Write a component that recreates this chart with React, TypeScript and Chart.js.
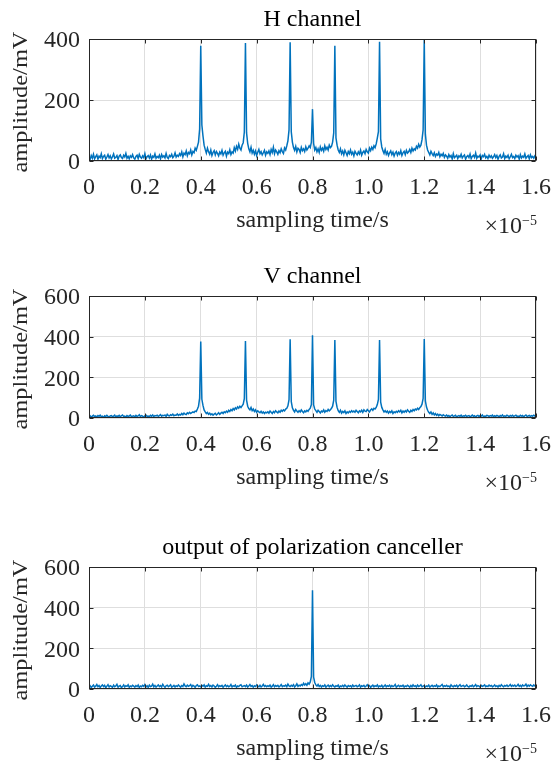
import React, { useEffect, useRef } from "react";
import { Chart, registerables } from "chart.js";

Chart.register(...registerables);

// sampling time axis is in units of 1e-5 s
const SAMPLE_STEP = 0.004;
const X_MIN = 0;
const X_MAX = 1.6;
const X_TICK_STEP = 0.2;
const Y_TICK_STEP = 200;

const TITLES = ["H channel", "V channel", "output of polarization canceller"];
const Y_MAXES = [400, 600, 600];
const X_LABEL = "sampling time/s";
const Y_LABEL = "amplitude/mV";

const H_CHANNEL = [
  12, 5, 18, 9, 22, 7, 14, 20, 6, 16, 11, 24, 8, 15, 19, 6, 13, 21, 10, 17,
  7, 14, 23, 9, 12, 18, 5, 16, 20, 11, 8, 19, 13, 25, 9, 15, 7, 17, 12, 21,
  10, 6, 15, 19, 8, 22, 13, 9, 17, 11, 24, 7, 14, 18, 10, 20, 6, 16, 12, 23,
  9, 15, 11, 19, 7, 21, 13, 17, 10, 25, 12, 8, 18, 14, 22, 11, 16, 27, 13, 19,
  15, 24, 18, 30, 14, 26, 21, 33, 17, 28, 24, 36, 20, 31, 27, 42, 35, 48, 62, 105,
  378, 118, 82, 52, 38, 26, 42, 30, 22, 36, 18, 28, 34, 20, 31, 25, 17, 29, 23, 35,
  19, 27, 32, 16, 29, 24, 37, 21, 30, 26, 44, 33, 48, 38, 55, 42, 36, 52, 60, 95,
  387, 92, 58, 40, 30, 45, 26, 35, 22, 33, 18, 29, 38, 24, 31, 20, 27, 35, 19, 30,
  25, 33, 21, 38, 28, 45, 24, 36, 30, 22, 34, 27, 40, 31, 25, 43, 36, 50, 66, 102,
  389, 96, 62, 44, 35, 48, 30, 42, 38, 28, 45, 34, 40, 31, 47, 36, 42, 50, 44, 62,
  170, 58, 36, 44, 30, 40, 28, 46, 35, 42, 32, 50, 38, 45, 36, 52, 44, 48, 62, 92,
  378, 76, 52, 36, 28, 40, 24, 33, 20, 35, 27, 18, 31, 24, 36, 22, 29, 17, 32, 25,
  20, 30, 23, 36, 19, 28, 33, 24, 38, 30, 26, 42, 34, 45, 38, 50, 44, 56, 75, 96,
  391, 72, 46, 34, 25, 38, 22, 30, 18, 27, 33, 21, 29, 16, 26, 31, 19, 28, 22, 34,
  18, 27, 32, 21, 35, 26, 30, 38, 28, 42, 33, 40, 36, 48, 42, 55, 46, 52, 70, 102,
  398, 88, 52, 36, 28, 20, 32, 24, 18, 27, 15, 23, 19, 28, 14, 22, 17, 25, 12, 20,
  16, 9, 21, 13, 18, 7, 24, 11, 15, 19, 8, 17, 13, 22, 10, 16, 20, 6, 14, 18,
  11, 23, 8, 15, 19, 12, 26, 9, 16, 13, 20, 7, 18, 14, 22, 10, 15, 8, 19, 12,
  17, 9, 14, 21, 11, 18, 6, 15, 20, 10, 13, 24, 8, 16, 12, 19, 7, 14, 22, 11,
  15, 8, 19, 13, 17, 6, 21, 10, 16, 12, 23, 9, 14, 18, 7, 20, 11, 15, 9, 17,
  13,
];

const V_CHANNEL = [
  6, 11, 4, 9, 13, 7, 10, 5, 12, 8, 14, 6, 9, 3, 11, 7, 13, 8, 5, 10,
  12, 6, 9, 14, 4, 10, 8, 13, 6, 11, 15, 7, 9, 5, 12, 8, 10, 14, 6, 9,
  11, 5, 13, 8, 10, 16, 7, 12, 9, 4, 11, 14, 8, 10, 6, 13, 9, 15, 7, 12,
  10, 14, 8, 12, 17, 9, 13, 11, 15, 8, 18, 12, 10, 16, 13, 19, 11, 15, 14, 20,
  13, 18, 15, 22, 16, 24, 19, 17, 25, 21, 28, 22, 26, 30, 27, 34, 32, 44, 58, 98,
  376, 92, 62, 40, 30, 22, 27, 18, 24, 16, 21, 14, 19, 23, 15, 20, 26, 18, 24, 28,
  22, 30, 26, 34, 28, 38, 32, 42, 36, 46, 40, 50, 44, 55, 48, 58, 52, 60, 68, 95,
  379, 88, 58, 46, 40, 52, 36, 44, 32, 40, 28, 35, 30, 26, 33, 24, 30, 22, 28, 25,
  30, 24, 34, 28, 22, 32, 26, 36, 30, 25, 34, 28, 38, 33, 40, 35, 44, 48, 60, 90,
  387, 80, 50, 38, 30, 42, 34, 28, 36, 30, 40, 32, 26, 35, 30, 38, 33, 42, 48, 66,
  407, 64, 44, 36, 28, 38, 32, 25, 34, 30, 40, 28, 36, 32, 42, 35, 40, 48, 58, 88,
  384, 82, 52, 36, 28, 38, 24, 32, 27, 35, 22, 30, 25, 33, 28, 36, 30, 34, 28, 38,
  32, 26, 35, 30, 38, 28, 40, 34, 32, 42, 36, 30, 40, 45, 38, 48, 44, 52, 66, 92,
  384, 78, 52, 40, 30, 36, 28, 34, 24, 32, 27, 35, 22, 30, 26, 33, 28, 36, 30, 38,
  25, 34, 28, 36, 30, 40, 33, 28, 38, 32, 42, 36, 44, 40, 48, 42, 50, 56, 68, 96,
  389, 84, 54, 38, 28, 22, 30, 18, 25, 15, 22, 13, 19, 11, 17, 14, 10, 16, 12, 9,
  14, 8, 12, 6, 11, 15, 7, 10, 13, 5, 9, 12, 8, 14, 6, 11, 9, 13, 7, 10,
  12, 6, 9, 14, 8, 11, 5, 10, 13, 7, 12, 9, 15, 6, 10, 8, 13, 11, 7, 12,
  9, 14, 6, 11, 8, 13, 10, 5, 12, 9, 15, 7, 11, 8, 14, 10, 6, 12, 9, 13,
  7, 11, 14, 8, 10, 6, 13, 9, 12, 5, 11, 15, 8, 10, 13, 7, 12, 9, 14, 10,
  8,
];

const CANCELLER_OUTPUT = [
  10, 16, 7, 13, 19, 9, 14, 22, 11, 17, 8, 15, 20, 12, 18, 6, 14, 21, 10, 16,
  13, 8, 19, 11, 15, 23, 9, 14, 17, 7, 12, 20, 10, 16, 13, 21, 8, 15, 11, 18,
  14, 9, 17, 12, 20, 7, 15, 11, 18, 13, 22, 10, 16, 8, 19, 12, 14, 24, 11, 17,
  9, 15, 20, 12, 17, 10, 23, 14, 8, 16, 19, 11, 15, 21, 9, 13, 18, 10, 16, 12,
  20, 14, 9, 17, 12, 25, 15, 11, 19, 13, 16, 22, 10, 18, 14, 8, 17, 21, 12, 15,
  11, 18, 14, 20, 9, 16, 13, 23, 12, 17, 10, 19, 15, 8, 14, 21, 11, 16, 13, 18,
  9, 15, 20, 12, 17, 11, 14, 22, 10, 16, 13, 19, 8, 15, 12, 18, 21, 11, 14, 17,
  12, 19, 10, 15, 22, 13, 17, 9, 16, 12, 20, 14, 11, 18, 10, 15, 23, 13, 17, 11,
  16, 12, 19, 9, 14, 21, 11, 17, 13, 18, 10, 15, 22, 12, 16, 14, 19, 11, 24, 15,
  12, 18, 14, 21, 10, 16, 25, 13, 19, 15, 22, 17, 28, 20, 26, 18, 30, 24, 35, 62,
  485, 58, 32, 20, 14, 22, 12, 18, 10, 16, 13, 20, 9, 15, 19, 11, 17, 12, 21, 14,
  10, 16, 13, 19, 8, 15, 12, 18, 11, 20, 14, 9, 17, 13, 16, 10, 19, 12, 15, 18,
  11, 14, 20, 9, 16, 13, 18, 10, 15, 21, 12, 17, 8, 14, 19, 11, 16, 13, 20, 10,
  15, 12, 18, 9, 14, 20, 11, 16, 13, 19, 10, 17, 12, 15, 22, 9, 14, 18, 11, 16,
  13, 19, 10, 15, 12, 18, 14, 9, 17, 11, 20, 13, 16, 10, 19, 12, 15, 21, 11, 14,
  17, 10, 15, 12, 19, 9, 14, 18, 11, 16, 13, 20, 10, 15, 12, 17, 22, 11, 16, 13,
  18, 12, 15, 9, 20, 14, 11, 17, 13, 19, 10, 16, 21, 12, 15, 18, 11, 14, 20, 13,
  10, 16, 13, 19, 11, 15, 22, 12, 17, 14, 9, 18, 13, 16, 20, 11, 15, 12, 19, 14,
  17, 11, 14, 20, 12, 16, 10, 18, 13, 21, 15, 11, 17, 14, 19, 12, 16, 22, 13, 18,
  14, 19, 12, 16, 23, 13, 18, 11, 20, 15, 17, 24, 12, 19, 14, 21, 16, 13, 20, 15,
  12,
];

const SERIES = [H_CHANNEL, V_CHANNEL, CANCELLER_OUTPUT];

// layout (pixels)
const FIG_W = 551;
const CANVAS_H = 235;
const CANVAS_TOPS = [0, 257, 528];
const PAD_TOP = 39;
const PLOT_H = 122;
const AXIS_W = 89;
const PAD_RIGHT = 15;

const FONT = "'Liberation Serif', 'Times New Roman', serif";
const TEXT = "#262626";
const LINE = "#0072BD";
const GRID = "#dedede";

function makeDecor(title: string) {
  return {
    id: "matlabDecor",
    afterDraw(chart: any) {
      const ctx: CanvasRenderingContext2D = chart.ctx;
      const { left, right, top, bottom } = chart.chartArea;
      const xs = chart.scales.x;
      const ys = chart.scales.y;
      ctx.save();
      // box
      ctx.strokeStyle = TEXT;
      ctx.lineWidth = 1;
      const l = Math.round(left) + 0.5;
      const t = Math.round(top) + 0.5;
      const r = Math.round(right) - 0.5;
      const b = Math.round(bottom) - 0.5;
      ctx.strokeRect(l, t, r - l, b - t);
      // inner ticks
      const tl = 4;
      ctx.beginPath();
      xs.ticks.forEach((tk: any) => {
        const px = Math.round(xs.getPixelForValue(tk.value)) + 0.5;
        ctx.moveTo(px, t);
        ctx.lineTo(px, t + tl);
        ctx.moveTo(px, b);
        ctx.lineTo(px, b - tl);
      });
      ys.ticks.forEach((tk: any) => {
        const py = Math.round(ys.getPixelForValue(tk.value)) + 0.5;
        ctx.moveTo(l, py);
        ctx.lineTo(l + tl, py);
        ctx.moveTo(r, py);
        ctx.lineTo(r - tl, py);
      });
      ctx.stroke();

      const cx = (left + right) / 2;
      // title
      ctx.fillStyle = "#000000";
      ctx.font = `24px ${FONT}`;
      ctx.textAlign = "center";
      ctx.textBaseline = "alphabetic";
      ctx.fillText(title, cx, top - 13);
      // x label
      ctx.fillStyle = TEXT;
      ctx.fillText(X_LABEL, cx, bottom + 66);
      // x10^-5 exponent label
      ctx.font = `14px ${FONT}`;
      ctx.textAlign = "right";
      const sup = "\u22125";
      const supW = ctx.measureText(sup).width;
      ctx.fillText(sup, right + 1, bottom + 64);
      ctx.font = `24px ${FONT}`;
      ctx.fillText("\u00d710", right + 1 - supW, bottom + 72);
      // y label (rotated)
      ctx.translate(22, (top + bottom) / 2 + 2);
      ctx.rotate(-Math.PI / 2);
      ctx.font = `20px ${FONT}`;
      const w = ctx.measureText(Y_LABEL).width;
      ctx.scale(141 / w, 1);
      ctx.textAlign = "center";
      ctx.textBaseline = "middle";
      ctx.fillText(Y_LABEL, 0, 0);
      ctx.restore();
    },
  };
}

function Panel({ index }: { index: number }) {
  const ref = useRef<HTMLCanvasElement | null>(null);
  useEffect(() => {
    if (!ref.current) return;
    const values = SERIES[index];
    const points = values.map((v, i) => ({ x: i * SAMPLE_STEP, y: v }));
    const chart = new Chart(ref.current, {
      type: "line",
      data: {
        datasets: [
          {
            data: points,
            borderColor: LINE,
            borderWidth: 1.5,
            pointRadius: 0,
            tension: 0,
            fill: false,
          },
        ],
      },
      options: {
        animation: false,
        responsive: false,
        events: [],
        layout: { padding: { top: PAD_TOP, left: 0, right: PAD_RIGHT, bottom: 0 } },
        plugins: {
          legend: { display: false },
          title: { display: false },
          tooltip: { enabled: false },
        },
        scales: {
          x: {
            type: "linear",
            min: X_MIN,
            max: X_MAX,
            afterFit: (s: any) => {
              s.height = CANVAS_H - PAD_TOP - PLOT_H;
              s.paddingLeft = 0;
              s.paddingRight = 0;
            },
            grid: { color: GRID, lineWidth: 1, drawTicks: false },
            border: { display: false },
            ticks: {
              stepSize: X_TICK_STEP,
              autoSkip: false,
              maxRotation: 0,
              padding: 12,
              color: TEXT,
              font: { family: FONT, size: 24 },
              callback: (v: any) => (Math.abs(v) < 1e-9 ? "0" : Number(v).toFixed(1)),
            },
          },
          y: {
            type: "linear",
            min: 0,
            max: Y_MAXES[index],
            afterFit: (s: any) => {
              s.width = AXIS_W;
              s.paddingTop = 0;
              s.paddingBottom = 0;
            },
            grid: { color: GRID, lineWidth: 1, drawTicks: false },
            border: { display: false },
            ticks: {
              stepSize: Y_TICK_STEP,
              padding: 9,
              labelOffset: 2,
              color: TEXT,
              font: { family: FONT, size: 24 },
              callback: (v: any) => String(v),
            },
          },
        },
      },
      plugins: [makeDecor(TITLES[index])],
    } as any);
    return () => chart.destroy();
  }, [index]);
  return (
    <canvas
      ref={ref}
      width={FIG_W}
      height={CANVAS_H}
      style={{ position: "absolute", left: 0, top: CANVAS_TOPS[index], width: FIG_W, height: CANVAS_H }}
    />
  );
}

export default function App() {
  return (
    <div
      style={{
        position: "absolute",
        left: 0,
        top: 0,
        width: FIG_W,
        height: 763,
        overflow: "hidden",
        background: "#ffffff",
      }}
    >
      {TITLES.map((_, i) => (
        <Panel key={i} index={i} />
      ))}
    </div>
  );
}
